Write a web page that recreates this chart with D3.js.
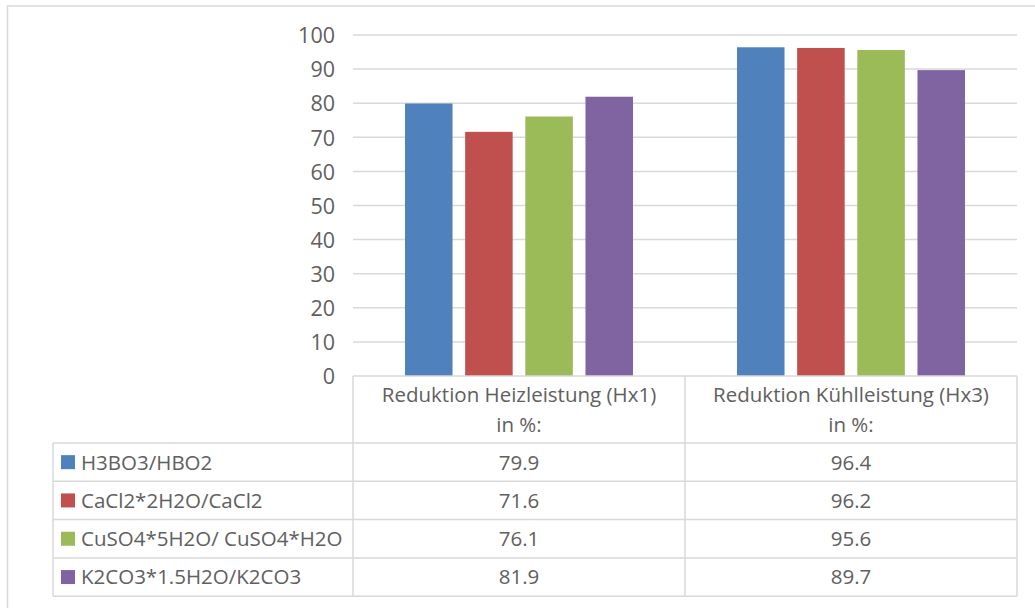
<!DOCTYPE html>
<html>
<head>
<meta charset="utf-8">
<script src="https://cdn.jsdelivr.net/npm/d3@7"></script>
<style>
  html, body { margin: 0; padding: 0; background: #fff; }
  svg { display: block; }
  text { font-family: "Open Sans", sans-serif; fill: #606060; }
</style>
</head>
<body>
<svg id="chart" width="1035" height="608"></svg>
<script>
// Categories (x axis) and series
const categories = ["Reduktion Heizleistung (Hx1)\nin %:", "Reduktion Kühlleistung (Hx3)\nin %:"];
const seriesNames = ["H3BO3/HBO2", "CaCl2*2H2O/CaCl2", "CuSO4*5H2O/ CuSO4*H2O", "K2CO3*1.5H2O/K2CO3"];
const seriesColors = ["#4F81BD", "#C0504D", "#9BBB59", "#8064A2"];
const valuesH3BO3 = [79.9, 96.4];
const valuesCaCl2 = [71.6, 96.2];
const valuesCuSO4 = [76.1, 95.6];
const valuesK2CO3 = [81.9, 89.7];
const yTicks = [0, 10, 20, 30, 40, 50, 60, 70, 80, 90, 100];

const seriesValues = [valuesH3BO3, valuesCaCl2, valuesCuSO4, valuesK2CO3];

const svg = d3.select("#chart");
const grid = "#d9d9d9";
const textSize = "20.5px";

// Layout
const plotLeft = 353, plotRight = 1017, plotTop = 35, plotBottom = 376;
const tableLeft = 53, headerBottom = 443, rowH = 38.3;

// Outer chart frame
svg.append("rect")
  .attr("x", 7.5).attr("y", 6).attr("width", 1040).attr("height", 620)
  .attr("fill", "none").attr("stroke", grid).attr("stroke-width", 1.5);

const x0 = d3.scaleBand().domain(d3.range(categories.length)).range([plotLeft, plotRight]);
const x1 = d3.scaleBand().domain(d3.range(seriesNames.length))
  .range([52, x0.bandwidth() - 52]).paddingInner(0.21);
const y = d3.scaleLinear().domain([0, 100]).range([plotBottom, plotTop]);

// Horizontal gridlines
svg.append("g").selectAll("line").data(yTicks.filter(t => t > 0)).join("line")
  .attr("x1", plotLeft).attr("x2", plotRight)
  .attr("y1", d => y(d)).attr("y2", d => y(d))
  .attr("stroke", grid).attr("stroke-width", 1.5);

// Y axis labels
const yAxis = d3.axisLeft(y).tickValues(yTicks).tickSize(0).tickPadding(0);
const ya = svg.append("g").attr("transform", `translate(${plotLeft - 18},0)`).call(yAxis);
ya.select(".domain").remove();
ya.selectAll("text").style("font-family", "'Open Sans', sans-serif")
  .style("font-size", "21.5px").attr("fill", "#606060").attr("dy", "0.36em");

// Bars
const groups = svg.append("g").selectAll("g").data(categories).join("g")
  .attr("transform", (d, i) => `translate(${x0(i)},0)`);
groups.selectAll("rect")
  .data((d, ci) => seriesValues.map((vals, si) => ({ si, v: vals[ci] })))
  .join("rect")
  .attr("x", d => x1(d.si)).attr("width", x1.bandwidth())
  .attr("y", d => y(d.v)).attr("height", d => y(0) - y(d.v))
  .attr("fill", d => seriesColors[d.si]);

// Data table
const tbl = svg.append("g").attr("stroke", grid).attr("stroke-width", 1.5).attr("fill", "none");
const tableBottom = headerBottom + rowH * seriesNames.length;
// header top line and category column dividers
tbl.append("line").attr("x1", plotLeft).attr("x2", plotRight).attr("y1", plotBottom).attr("y2", plotBottom);
[0, 1].forEach(i => {
  const xx = x0(i);
  tbl.append("line").attr("x1", xx).attr("x2", xx).attr("y1", plotBottom).attr("y2", tableBottom);
});
tbl.append("line").attr("x1", plotRight).attr("x2", plotRight).attr("y1", plotBottom).attr("y2", tableBottom);
tbl.append("line").attr("x1", tableLeft).attr("x2", tableLeft).attr("y1", headerBottom).attr("y2", tableBottom);
d3.range(seriesNames.length + 1).forEach(r => {
  const yy = headerBottom + r * rowH;
  tbl.append("line").attr("x1", tableLeft).attr("x2", plotRight).attr("y1", yy).attr("y2", yy);
});

// Category headers
categories.forEach((c, i) => {
  const lines = c.split("\n");
  const t = svg.append("text").attr("text-anchor", "middle")
    .attr("x", x0(i) + x0.bandwidth() / 2).style("font-size", textSize);
  lines.forEach((l, k) => {
    t.append("tspan").attr("x", x0(i) + x0.bandwidth() / 2).attr("y", 402 + k * 30).text(l);
  });
});

// Rows: legend key + values
seriesNames.forEach((name, si) => {
  const cy = headerBottom + si * rowH + rowH / 2;
  svg.append("rect").attr("x", 61).attr("y", cy - 7).attr("width", 14).attr("height", 14)
    .attr("fill", seriesColors[si]);
  svg.append("text").attr("x", 81).attr("y", cy).attr("dy", "0.36em")
    .style("font-size", textSize).text(name);
  seriesValues[si].forEach((v, ci) => {
    svg.append("text").attr("text-anchor", "middle")
      .attr("x", x0(ci) + x0.bandwidth() / 2).attr("y", cy).attr("dy", "0.36em")
      .style("font-size", textSize).text(d3.format(".1f")(v));
  });
});
</script>
</body>
</html>
